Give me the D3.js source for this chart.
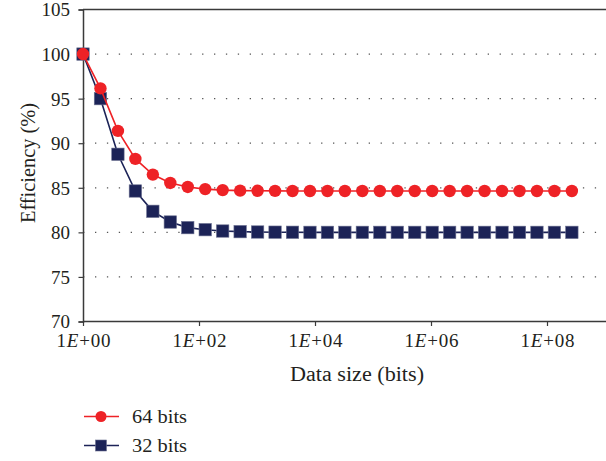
<!DOCTYPE html>
<html>
<head>
<meta charset="utf-8">
<script src="https://cdn.jsdelivr.net/npm/d3@7"></script>
<style>
  html, body { margin: 0; padding: 0; background: #fff; }
  svg { display: block; }
  text { font-family: "Liberation Serif", "DejaVu Serif", serif; fill: #231f20; }
</style>
</head>
<body>
<svg id="chart" width="606" height="461"></svg>
<script>
// ---- data ----
const dataSizes = [1, 2, 4, 8, 16, 32, 64, 128, 256, 512, 1024, 2048, 4096, 8192,
  16384, 32768, 65536, 131072, 262144, 524288, 1048576, 2097152, 4194304,
  8388608, 16777216, 33554432, 67108864, 134217728, 268435456];
const eff64 = [100, 96.15, 91.38, 88.24, 86.48, 85.54, 85.09, 84.85, 84.74, 84.68,
  84.66, 84.65, 84.64, 84.64, 84.64, 84.64, 84.64, 84.64, 84.64, 84.64, 84.64,
  84.64, 84.64, 84.64, 84.64, 84.64, 84.64, 84.64, 84.64];
const eff32 = [100, 95.0, 88.76, 84.64, 82.36, 81.16, 80.53, 80.30, 80.15, 80.08,
  80.04, 80.02, 80.01, 80.0, 80.0, 80.0, 80.0, 80.0, 80.0, 80.0, 80.0, 80.0,
  80.0, 80.0, 80.0, 80.0, 80.0, 80.0, 80.0];
const xTickValues = [1, 1e2, 1e4, 1e6, 1e8];
const xTickExponents = ["00", "02", "04", "06", "08"];
const yTickValues = [70, 75, 80, 85, 90, 95, 100, 105];
const gridValues = [75, 80, 85, 90, 95, 100];
const seriesNames = ["64 bits", "32 bits"];
const xTitle = "Data size (bits)";
const yTitle = "Efficiency (%)";

// ---- layout ----
const svg = d3.select("#chart");
const mLeft = 83, mRight = 605, mTop = 9.5, mBottom = 321.5;
const x = d3.scaleLog().domain([1, 1e9]).range([mLeft, mRight]);
const y = d3.scaleLinear().domain([70, 105]).range([mBottom, mTop]);
const red = "#ee2226", navy = "#1c2357";
const axisColor = "#3a3a3a";
const tickFont = "19px";
const serifFam = "'Liberation Serif', 'DejaVu Serif', serif";

// gridlines (dotted)
svg.append("g").selectAll("line").data(gridValues).join("line")
  .attr("x1", mLeft + 1).attr("x2", 606)
  .attr("y1", d => y(d)).attr("y2", d => y(d))
  .attr("stroke", "#555").attr("stroke-width", 1.2)
  .attr("stroke-dasharray", "1.3,10.6")
  .attr("stroke-dashoffset", -11);

// top frame line
svg.append("line").attr("x1", mLeft).attr("x2", 606)
  .attr("y1", y(105)).attr("y2", y(105))
  .attr("stroke", axisColor).attr("stroke-width", 1.5);

// y axis
const yAxis = svg.append("g").attr("transform", `translate(${mLeft},0)`)
  .call(d3.axisLeft(y).tickValues(yTickValues).tickSize(4.5).tickPadding(8.5));
yAxis.attr("font-family", null);
yAxis.select(".domain").attr("stroke", axisColor).attr("stroke-width", 1.5);
yAxis.selectAll(".tick line").attr("stroke", axisColor).attr("stroke-width", 1.2);
yAxis.selectAll(".tick text").style("font-size", tickFont)
  .style("font-family", serifFam).attr("fill", "#231f20")
  .attr("dy", "0.34em");

// x axis
const xAxis = svg.append("g").attr("transform", `translate(0,${mBottom})`)
  .call(d3.axisBottom(x).tickValues(xTickValues).tickSize(4.5).tickFormat(""));
xAxis.attr("font-family", null);
xAxis.select(".domain").remove();
xAxis.append("line").attr("x1", mLeft).attr("x2", 606).attr("y1", 0).attr("y2", 0)
  .attr("stroke", axisColor).attr("stroke-width", 1.5);
xAxis.selectAll(".tick line").attr("stroke", axisColor).attr("stroke-width", 1.2);
xAxis.selectAll(".tick").each(function(d, i) {
  const t = d3.select(this).append("text")
    .attr("x", -27).attr("y", 25.5).attr("text-anchor", "start")
    .attr("textLength", 54).attr("lengthAdjust", "spacing")
    .style("font-size", tickFont).style("font-family", serifFam).attr("fill", "#231f20");
  t.append("tspan").text("1");
  t.append("tspan").style("font-style", "italic").text("E");
  t.append("tspan").text("+" + xTickExponents[i]);
});

// axis titles
svg.append("text").attr("x", 290).attr("y", 380.5)
  .attr("textLength", 134).attr("lengthAdjust", "spacingAndGlyphs")
  .style("font-size", "20.5px").style("font-family", serifFam).text(xTitle);
svg.append("text").attr("transform", `translate(35,223) rotate(-90)`)
  .attr("textLength", 120).attr("lengthAdjust", "spacingAndGlyphs")
  .style("font-size", "20.5px").style("font-family", serifFam).text(yTitle);

// series
const pts64 = dataSizes.map((d, i) => [d, eff64[i]]);
const pts32 = dataSizes.map((d, i) => [d, eff32[i]]);
const line = d3.line().x(d => x(d[0])).y(d => y(d[1]));

svg.append("path").datum(pts32).attr("d", line)
  .attr("fill", "none").attr("stroke", navy).attr("stroke-width", 1.6);
svg.append("g").selectAll("rect").data(pts32).join("rect")
  .attr("x", d => x(d[0]) - 6.2).attr("y", d => y(d[1]) - 6.2)
  .attr("width", 12.4).attr("height", 12.4)
  .attr("fill", navy).attr("stroke", "#6b7090").attr("stroke-width", 0.6);

svg.append("path").datum(pts64).attr("d", line)
  .attr("fill", "none").attr("stroke", red).attr("stroke-width", 1.6);
svg.append("g").selectAll("circle").data(pts64).join("circle")
  .attr("cx", d => x(d[0])).attr("cy", d => y(d[1])).attr("r", 6.2)
  .attr("fill", red);

// legend
const legend = svg.append("g");
const legY = [416.5, 445.5];
const colors = [red, navy];
seriesNames.forEach((name, i) => {
  const g = legend.append("g").attr("transform", `translate(0,${legY[i]})`);
  g.append("line").attr("x1", 84).attr("x2", 119).attr("y1", 0).attr("y2", 0)
    .attr("stroke", colors[i]).attr("stroke-width", 1.6);
  if (i === 0) {
    g.append("circle").attr("cx", 101).attr("cy", 0).attr("r", 5.5).attr("fill", red);
  } else {
    g.append("rect").attr("x", 95.5).attr("y", -5.5).attr("width", 11).attr("height", 11)
      .attr("fill", navy).attr("stroke", "#6b7090").attr("stroke-width", 0.6);
  }
  g.append("text").attr("x", 132).attr("y", 6.5)
    .attr("textLength", 55).attr("lengthAdjust", "spacingAndGlyphs")
    .style("font-size", "19.5px").style("font-family", serifFam).text(name);
});
</script>
</body>
</html>
